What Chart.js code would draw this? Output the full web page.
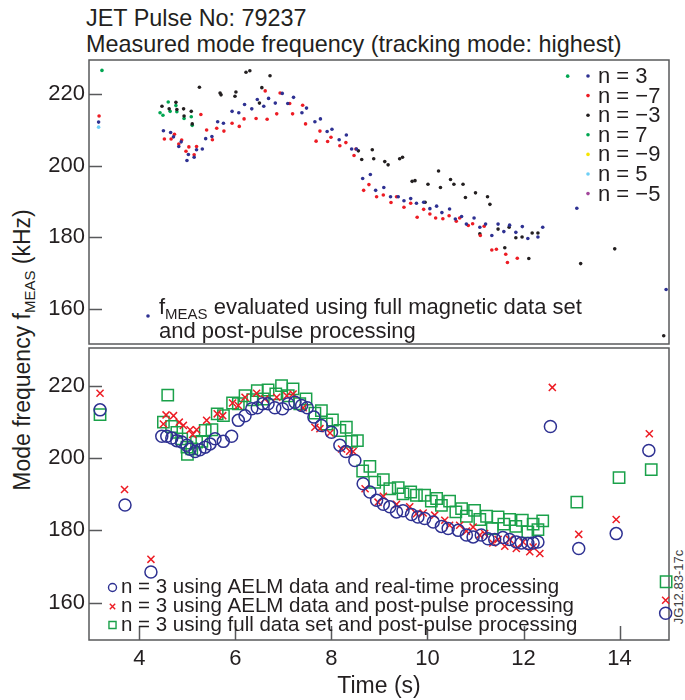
<!DOCTYPE html>
<html>
<head>
<meta charset="utf-8">
<script src="https://cdn.jsdelivr.net/npm/chart.js@4.4.1/dist/chart.umd.min.js"></script>
<style>
  body { margin: 0; background: #fff; }
  #wrap { position: relative; width: 685px; height: 700px; font-family: "Liberation Sans", Arial, sans-serif; color: #231f20; }
  canvas { position: absolute; left: 0; }
  .txt { position: absolute; white-space: nowrap; line-height: 1; }
  sub { font-size: 15px; vertical-align: -5px; line-height: 0; }
</style>
</head>
<body>
<div id="wrap">
  <div class="txt" style="left:86px; top:7px; font-size:23.4px;">JET Pulse No: 79237</div>
  <div class="txt" style="left:86px; top:33px; font-size:23.4px;">Measured mode frequency (tracking mode: highest)</div>
  <div class="txt" style="left:22px; top:350px; font-size:23px; transform: translate(-50%,-50%) rotate(-90deg);">Mode frequency f<sub>MEAS</sub> (kHz)</div>
  <div class="txt" style="left:678px; top:587px; font-size:13px; color:#414042; transform: translate(-50%,-50%) rotate(-90deg);">JG12.83-17c</div>
  <canvas id="topChart" width="685" height="348" style="top:0"></canvas>
  <canvas id="bottomChart" width="685" height="363" style="top:337px"></canvas>
</div>
<script>
// axis ticks
const timeTicks = [4, 6, 8, 10, 12, 14];
const freqTicks = [160, 180, 200, 220];

// top panel: f_MEAS per toroidal mode number (full magnetic data, post-pulse)
const n3Time = [3.15, 4.50, 4.65, 4.71, 4.82, 4.87, 4.99, 5.02, 5.14, 5.19, 5.31, 5.38, 5.51, 5.63, 5.75, 5.93, 6.07, 6.19, 6.34, 6.455, 6.59, 6.69, 6.83, 6.975, 7.09, 7.21, 7.385, 7.48, 7.655, 7.77, 7.91, 8.01, 8.16, 8.31, 8.42, 8.52, 8.65, 8.81, 8.92, 9.09, 9.23, 9.39, 9.51, 9.65, 9.77, 9.92, 10.05, 10.19, 10.30, 10.46, 10.58, 10.71, 10.81, 10.97, 11.09, 11.21, 11.34, 11.47, 11.59, 11.71, 11.84, 11.975, 12.09, 12.30, 12.40, 13.11, 14.97];
const n3Freq = [212.1, 209.7, 209.2, 208.0, 205.3, 206.6, 201.4, 203.1, 202.3, 204.4, 204.6, 207.5, 208.1, 212.2, 211.8, 215.1, 214.7, 217.0, 215.8, 218.4, 216.5, 218.7, 217.4, 220.1, 217.3, 219.0, 214.7, 216.0, 212.2, 213.0, 209.5, 210.1, 207.2, 208.5, 204.6, 204.6, 196.4, 197.5, 193.1, 193.9, 191.3, 191.3, 190.2, 190.8, 189.5, 189.8, 188.0, 188.7, 186.9, 187.9, 185.1, 185.8, 183.7, 185.4, 182.8, 183.7, 180.5, 183.7, 181.6, 183.4, 181.4, 183.0, 179.7, 180.1, 182.8, 188.1, 165.5];

const nm7Time = [3.16, 4.52, 4.66, 4.73, 4.82, 4.88, 4.97, 5.03, 5.14, 5.19, 5.28, 5.40, 5.52, 5.61, 5.76, 5.93, 6.08, 6.18, 6.43, 6.62, 6.66, 6.86, 6.93, 7.13, 7.19, 7.40, 7.46, 7.68, 7.76, 7.92, 7.99, 8.175, 8.30, 8.47, 8.51, 8.67, 8.78, 8.94, 9.08, 9.24, 9.355, 9.51, 9.65, 9.785, 9.92, 10.05, 10.17, 10.32, 10.45, 10.60, 10.67, 10.85, 10.94, 11.10, 11.18, 11.34, 11.435, 11.63, 11.665, 11.87];
const nm7Freq = [213.8, 207.4, 207.4, 208.7, 206.0, 207.1, 204.0, 205.2, 203.0, 205.3, 214.2, 209.9, 207.2, 210.4, 209.6, 211.8, 210.9, 213.0, 213.1, 220.8, 212.9, 214.4, 220.2, 217.3, 214.4, 216.8, 211.6, 206.8, 209.6, 206.7, 207.9, 205.5, 206.4, 202.8, 204.6, 193.1, 194.7, 191.3, 191.8, 189.7, 191.3, 188.4, 189.5, 185.6, 187.8, 186.5, 185.4, 185.2, 186.0, 184.5, 185.4, 183.3, 183.8, 180.5, 183.1, 176.5, 176.7, 175.3, 173.0, 174.2];

const nm3Time = [4.47, 4.62, 4.76, 4.78, 4.92, 4.93, 5.08, 5.10, 5.25, 5.68, 5.70, 5.99, 6.01, 6.22, 6.30, 6.50, 6.55, 6.72, 8.56, 8.63, 8.85, 8.88, 9.11, 9.18, 9.42, 9.48, 9.68, 9.74, 9.95, 10.01, 10.23, 10.27, 10.48, 10.55, 10.74, 10.79, 11.0, 11.09, 11.25, 11.30, 11.47, 11.61, 11.70, 11.84, 11.97, 12.11, 12.18, 12.30, 13.19, 13.90, 14.92];
const nm3Freq = [216.5, 215.8, 217.6, 215.6, 215.8, 213.8, 215.1, 211.6, 221.8, 220.2, 219.7, 219.3, 220.5, 226.0, 226.4, 217.4, 221.7, 225.0, 204.1, 201.7, 204.4, 201.9, 201.1, 200.2, 201.9, 202.3, 195.6, 195.8, 189.8, 194.8, 198.5, 193.9, 196.1, 194.8, 194.8, 191.1, 192.4, 181.0, 191.3, 189.2, 182.3, 177.1, 182.8, 179.9, 180.1, 174.1, 181.2, 181.2, 172.7, 176.8, 152.6];

const n7Time = [3.22, 4.43, 4.49, 4.60, 4.64, 4.76, 4.78, 4.93, 5.08, 5.10, 12.92];
const n7Freq = [226.5, 214.7, 214.0, 217.7, 215.1, 216.7, 215.0, 213.1, 213.6, 211.2, 224.9];

const nm9Time = [];
const nm9Freq = [];
const n5Time = [3.15];
const n5Freq = [210.7];
const nm5Time = [];
const nm5Freq = [];

// bottom panel: n = 3 from three processing chains
const rtTime = [3.18, 3.70, 4.24, 4.466, 4.57, 4.674, 4.778, 4.88, 4.986, 5.055, 5.159, 5.26, 5.367, 5.47, 5.575, 5.747, 5.92, 6.06, 6.20, 6.34, 6.455, 6.567, 6.68, 6.82, 6.98, 7.10, 7.24, 7.378, 7.495, 7.634, 7.79, 8.0, 8.175, 8.30, 8.487, 8.66, 8.80, 8.94, 9.08, 9.215, 9.355, 9.49, 9.667, 9.80, 9.94, 10.12, 10.29, 10.43, 10.64, 10.81, 10.95, 11.12, 11.26, 11.40, 11.57, 11.71, 11.85, 11.955, 12.09, 12.20, 12.30, 12.56, 13.15, 13.93, 14.61, 14.96];
const rtFreq = [213.3, 187.0, 168.5, 206.0, 206.0, 205.5, 204.8, 204.4, 203.5, 202.4, 201.8, 202.3, 203.0, 203.9, 205.3, 204.6, 206.0, 210.4, 211.7, 213.6, 213.9, 215.0, 215.0, 213.9, 213.6, 215.0, 215.4, 214.5, 213.9, 211.3, 209.0, 207.1, 203.5, 201.8, 199.3, 192.9, 190.6, 188.3, 187.2, 186.5, 185.1, 185.4, 184.4, 183.7, 183.3, 182.3, 181.1, 180.5, 180.0, 178.7, 178.2, 178.7, 177.7, 177.5, 178.0, 177.5, 176.8, 176.5, 176.4, 176.5, 176.8, 208.7, 175.0, 179.1, 202.1, 157.1];

const ppTime = [3.18, 3.69, 4.24, 4.50, 4.555, 4.71, 4.83, 4.915, 5.055, 5.11, 5.19, 5.40, 5.62, 5.735, 5.94, 6.06, 6.20, 6.44, 6.61, 6.86, 7.07, 7.20, 7.41, 7.655, 7.76, 7.97, 8.21, 8.38, 8.45, 8.70, 8.97, 9.08, 9.355, 9.63, 9.77, 9.91, 10.15, 10.36, 10.46, 10.67, 10.81, 10.95, 11.09, 11.19, 11.36, 11.47, 11.61, 11.71, 11.85, 11.99, 12.13, 12.20, 12.34, 12.60, 13.15, 13.93, 14.62, 14.96];
const ppFreq = [217.9, 191.3, 172.0, 209.4, 211.9, 211.7, 209.9, 209.0, 207.8, 206.5, 207.8, 210.4, 212.2, 211.7, 215.2, 214.5, 216.8, 217.9, 216.3, 216.8, 217.2, 217.7, 213.9, 208.5, 208.1, 206.9, 202.5, 201.9, 201.8, 191.5, 187.8, 189.4, 187.2, 186.5, 184.6, 184.8, 184.2, 182.8, 181.4, 181.4, 179.8, 180.9, 178.7, 179.1, 176.5, 177.5, 175.6, 177.5, 175.0, 176.8, 174.1, 175.4, 173.6, 219.5, 178.9, 183.0, 206.7, 160.7];

const fullTime = [3.18, 4.50, 4.59, 4.67, 4.78, 4.88, 4.99, 5.0, 5.09, 5.19, 5.30, 5.37, 5.51, 5.62, 5.75, 5.94, 6.06, 6.20, 6.36, 6.455, 6.58, 6.68, 6.84, 6.96, 7.10, 7.20, 7.34, 7.47, 7.655, 7.79, 7.90, 8.02, 8.175, 8.31, 8.42, 8.54, 8.65, 8.80, 8.90, 9.08, 9.215, 9.39, 9.49, 9.65, 9.77, 9.94, 10.08, 10.19, 10.29, 10.46, 10.59, 10.71, 10.81, 10.98, 11.09, 11.23, 11.35, 11.47, 11.59, 11.71, 11.84, 11.975, 12.09, 12.20, 12.30, 12.40, 13.11, 13.99, 14.66, 14.97];
const fullFreq = [212.0, 209.9, 217.4, 208.7, 207.1, 205.3, 203.0, 201.0, 202.5, 204.4, 204.6, 207.6, 207.8, 212.2, 211.7, 215.2, 215.0, 217.2, 216.1, 218.6, 216.3, 218.8, 217.7, 220.0, 217.2, 219.1, 215.0, 216.3, 212.4, 213.1, 209.4, 210.5, 207.6, 208.5, 204.6, 204.8, 196.4, 197.7, 193.3, 194.0, 191.5, 191.8, 190.1, 190.6, 189.7, 189.7, 188.1, 188.8, 186.9, 188.1, 185.1, 186.0, 183.9, 185.5, 183.0, 183.9, 180.5, 183.7, 181.7, 183.0, 181.1, 182.8, 179.6, 181.7, 180.2, 182.6, 187.8, 194.6, 196.8, 165.8];

const FONT = '"Liberation Sans", Arial, sans-serif';
const INK = '#231f20';
const FRAME = '#58595b';
Chart.defaults.font.family = FONT;
Chart.defaults.color = INK;

function pts(t, f) {
    return t.map((x, i) => ({ x: x, y: f[i] }));
}

// frame box + inward ticks, like the original plotting package
const framePlugin = {
    id: 'frame',
    beforeDatasetsDraw(chart, args, opts) {
        const { ctx, chartArea: a, scales } = chart;
        ctx.save();
        ctx.strokeStyle = FRAME;
        ctx.lineWidth = 1.5;
        ctx.strokeRect(a.left, a.top, a.right - a.left, a.bottom - a.top);
        ctx.beginPath();
        scales.y.ticks.forEach(t => {
            const y = Math.round(scales.y.getPixelForValue(t.value)) + 0.5;
            ctx.moveTo(a.left, y);
            ctx.lineTo(a.left + 13, y);
        });
        if (opts.xTicks) {
            scales.x.ticks.forEach(t => {
                const x = Math.round(scales.x.getPixelForValue(t.value)) + 0.5;
                ctx.moveTo(x, a.bottom);
                ctx.lineTo(x, a.bottom - 14);
            });
        }
        ctx.stroke();
        ctx.restore();
    }
};

// text with a subscript part, e.g. f_MEAS
function subText(ctx, x, y, parts, size) {
    parts.forEach(p => {
        if (p.sub) {
            ctx.font = Math.round(size * 0.68) + 'px ' + FONT;
            ctx.fillText(p.text, x, y + size * 0.22);
        } else {
            ctx.font = size + 'px ' + FONT;
            ctx.fillText(p.text, x, y);
        }
        x += ctx.measureText(p.text).width;
    });
}

const topLegendPlugin = {
    id: 'topLegend',
    afterDatasetsDraw(chart) {
        const ctx = chart.ctx;
        ctx.save();
        ctx.textBaseline = 'middle';
        chart.data.datasets.forEach((ds, i) => {
            const y = 76 + i * 19.6;
            ctx.fillStyle = ds.pointBackgroundColor;
            ctx.beginPath();
            ctx.arc(588, y, 1.8, 0, Math.PI * 2);
            ctx.fill();
            ctx.fillStyle = INK;
            ctx.font = '22px ' + FONT;
            ctx.fillText(ds.label, 598, y + 1);
        });
        // annotation
        ctx.fillStyle = '#2e3192';
        ctx.beginPath();
        ctx.arc(148, 316, 1.8, 0, Math.PI * 2);
        ctx.fill();
        ctx.fillStyle = INK;
        ctx.textBaseline = 'alphabetic';
        subText(ctx, 159, 314, [{ text: 'f' }, { text: 'MEAS', sub: true }, { text: ' evaluated using full magnetic data set' }], 22);
        subText(ctx, 159, 338, [{ text: 'and post-pulse processing' }], 22);
        ctx.restore();
    }
};

const bottomLegendPlugin = {
    id: 'bottomLegend',
    afterDatasetsDraw(chart) {
        const ctx = chart.ctx;
        const top = 337;
        ctx.save();
        chart.data.datasets.forEach((ds, i) => {
            const y = [587.5, 606.5, 625][i] - top;
            ctx.fillStyle = 'rgba(0,0,0,0)';
            ctx.strokeStyle = ds.pointBorderColor;
            ctx.lineWidth = 1.4;
            Chart.helpers.drawPoint(ctx, {
                pointStyle: ds.pointStyle,
                radius: ds.legendRadius,
                borderWidth: 1.4
            }, 112.5, y);
            ctx.fillStyle = INK;
            ctx.font = '20.5px ' + FONT;
            ctx.textBaseline = 'middle';
            ctx.fillText(ds.label, 121, y);
        });
        ctx.restore();
    }
};

function yScale(min, max) {
    return {
        type: 'linear',
        min: min,
        max: max,
        afterBuildTicks: s => { s.ticks = freqTicks.map(v => ({ value: v })); },
        afterFit: s => { s.width = 89; s.paddingTop = 0; s.paddingBottom = 0; },
        grid: { display: false, drawTicks: false },
        border: { display: false },
        ticks: { padding: 4, font: { size: 22 }, color: INK }
    };
}

function dot(label, t, f, color) {
    return {
        label: label,
        data: pts(t, f),
        pointRadius: 1.8,
        pointBackgroundColor: color,
        pointBorderColor: color,
        pointBorderWidth: 0,
        clip: false
    };
}

new Chart(document.getElementById('topChart'), {
    type: 'scatter',
    data: {
        datasets: [
            dot('n = 3', n3Time, n3Freq, '#2e3192'),
            dot('n = \u22127', nm7Time, nm7Freq, '#ed1c24'),
            dot('n = \u22123', nm3Time, nm3Freq, '#231f20'),
            dot('n = 7', n7Time, n7Freq, '#00a651'),
            dot('n = \u22129', nm9Time, nm9Freq, '#f7e600'),
            dot('n = 5', n5Time, n5Freq, '#6dcff6'),
            dot('n = \u22125', nm5Time, nm5Freq, '#a3479b')
        ]
    },
    options: {
        responsive: false,
        animation: false,
        events: [],
        layout: { padding: { top: 60, right: 16, bottom: 0, left: 0 } },
        scales: {
            x: { type: 'linear', min: 2.95, max: 15.03, display: false },
            y: yScale(150.3, 229.4)
        },
        plugins: { legend: { display: false }, tooltip: { enabled: false }, frame: { xTicks: false } }
    },
    plugins: [framePlugin, topLegendPlugin]
});

function marker(label, t, f, style, radius, legendRadius, color) {
    return {
        label: label,
        data: pts(t, f),
        pointStyle: style,
        pointRadius: radius,
        legendRadius: legendRadius,
        pointBackgroundColor: 'rgba(0,0,0,0)',
        pointBorderColor: color,
        pointBorderWidth: 1.5,
        clip: false
    };
}

new Chart(document.getElementById('bottomChart'), {
    type: 'scatter',
    data: {
        datasets: [
            marker('n = 3 using AELM data and real-time processing', rtTime, rtFreq, 'circle', 6, 4, '#2e3192'),
            marker('n = 3 using AELM data and post-pulse processing', ppTime, ppFreq, 'crossRot', 5, 3.8, '#ed1c24'),
            marker('n = 3 using full data set and post-pulse processing', fullTime, fullFreq, 'rect', 8, 5, '#1aa14a')
        ]
    },
    options: {
        responsive: false,
        animation: false,
        events: [],
        layout: { padding: { top: 11, right: 16, bottom: 0, left: 0 } },
        scales: {
            x: {
                type: 'linear',
                min: 2.95,
                max: 15.03,
                afterBuildTicks: s => { s.ticks = timeTicks.map(v => ({ value: v })); },
                afterFit: s => { s.height = 60; s.paddingLeft = 0; s.paddingRight = 0; },
                grid: { display: false, drawTicks: false },
                border: { display: false },
                ticks: { padding: 6, font: { size: 22 }, color: INK },
                title: { display: true, text: 'Time (s)', font: { size: 23 }, color: INK, padding: { top: 0, bottom: 0 } }
            },
            y: yScale(149.7, 230.4)
        },
        plugins: { legend: { display: false }, tooltip: { enabled: false }, frame: { xTicks: true } }
    },
    plugins: [framePlugin, bottomLegendPlugin]
});
</script>
</body>
</html>
